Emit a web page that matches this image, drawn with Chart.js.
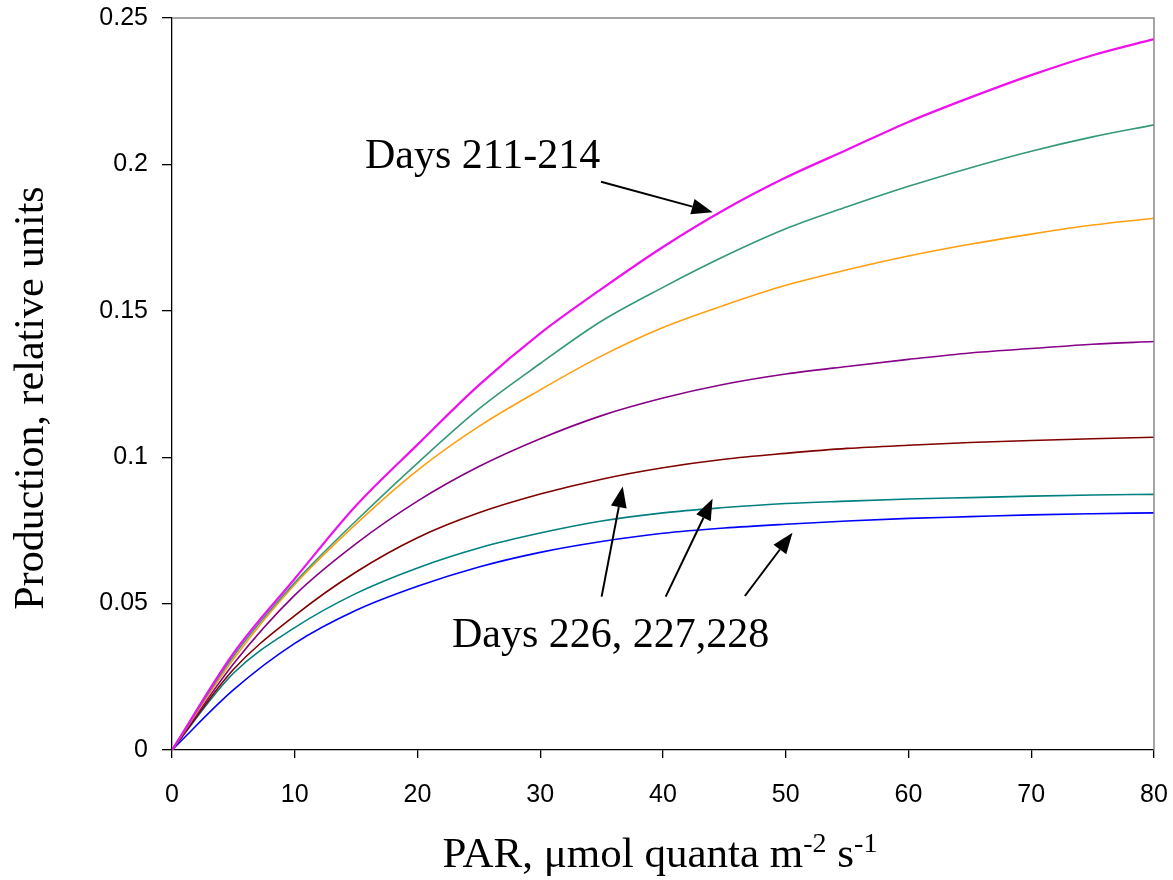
<!DOCTYPE html>
<html>
<head>
<meta charset="utf-8">
<script src="https://cdn.jsdelivr.net/npm/chart.js@4/dist/chart.umd.min.js"></script>
<style>
  body { margin: 0; background: #fff; }
</style>
</head>
<body>
<canvas id="chart" width="1173" height="880"></canvas>
<script>
// Data
const parValues = [0, 5, 10, 15, 20, 25, 30, 35, 40, 45, 50, 55, 60, 65, 70, 75, 80]

const days211 = [0, 0.033, 0.0585, 0.0835, 0.1043, 0.1246, 0.1423, 0.1575, 0.1718, 0.1845, 0.1955, 0.205, 0.2145, 0.2228, 0.2305, 0.2373, 0.2428]
const curveGreen = [0, 0.032, 0.0572, 0.0783, 0.098, 0.1165, 0.132, 0.1465, 0.158, 0.1686, 0.178, 0.1855, 0.1925, 0.1988, 0.2045, 0.2094, 0.2135]
const curveOrange = [0, 0.031, 0.0565, 0.0772, 0.0955, 0.1105, 0.123, 0.1346, 0.1443, 0.1519, 0.1587, 0.164, 0.1687, 0.1727, 0.1762, 0.1793, 0.1816]
const curvePurple = [0, 0.0294, 0.0529, 0.0705, 0.085, 0.0968, 0.1063, 0.1142, 0.1202, 0.1249, 0.1284, 0.131, 0.1334, 0.1356, 0.1371, 0.1386, 0.1395]
const days226 = [0, 0.0275, 0.0459, 0.0608, 0.0725, 0.081, 0.0874, 0.0925, 0.0964, 0.0993, 0.1013, 0.103, 0.1041, 0.105, 0.1057, 0.1063, 0.1068]
const days227 = [0, 0.0262, 0.0418, 0.0535, 0.0622, 0.069, 0.0741, 0.0782, 0.081, 0.0828, 0.0842, 0.085, 0.0857, 0.0862, 0.0867, 0.0871, 0.0873]
const days228 = [0, 0.0205, 0.0364, 0.0477, 0.0559, 0.0625, 0.0675, 0.0712, 0.0740, 0.0758, 0.0771, 0.0782, 0.0791, 0.0797, 0.0803, 0.0807, 0.081]

const xTicks = [0, 10, 20, 30, 40, 50, 60, 70, 80]
const yTicks = [0, 0.05, 0.1, 0.15, 0.2, 0.25]
const yTickLabels = ['0', '0.05', '0.1', '0.15', '0.2', '0.25']

// Annotations (data units): [fromX, fromY, toX, toY]
const arrows = [
    [34.95, 0.1941, 44.05, 0.1837],
    [35.0, 0.0524, 36.72, 0.0900],
    [40.22, 0.0524, 44.04, 0.0858],
    [46.67, 0.0526, 50.55, 0.0742]
]
const labels = [
    { text: 'Days 211-214', x: 15.72, y: 0.1988 },
    { text: 'Days 226, 227,228', x: 22.81, y: 0.0352 }
]

const series = [
    { data: days211, color: '#ee11ee', width: 2.2 },
    { data: curveGreen, color: '#339977', width: 1.6 },
    { data: curveOrange, color: '#ff9f10', width: 1.6 },
    { data: curvePurple, color: '#880088', width: 1.6 },
    { data: days226, color: '#800000', width: 1.6 },
    { data: days227, color: '#008080', width: 1.6 },
    { data: days228, color: '#0000ff', width: 1.6 }
]

const SERIF = '"Liberation Serif", "Times New Roman", serif'
const SANS = '"Liberation Sans", Arial, sans-serif'

function drawArrow(ctx, x1, y1, x2, y2) {
    const ang = Math.atan2(y2 - y1, x2 - x1)
    const len = 21, half = 8
    const bx = x2 - len * Math.cos(ang)
    const by = y2 - len * Math.sin(ang)
    ctx.beginPath()
    ctx.moveTo(x1, y1)
    ctx.lineTo(bx, by)
    ctx.lineWidth = 2
    ctx.strokeStyle = '#000'
    ctx.stroke()
    ctx.beginPath()
    ctx.moveTo(x2, y2)
    ctx.lineTo(bx + half * Math.sin(ang), by - half * Math.cos(ang))
    ctx.lineTo(bx - half * Math.sin(ang), by + half * Math.cos(ang))
    ctx.closePath()
    ctx.fillStyle = '#000'
    ctx.fill()
}

const decorations = {
    id: 'decorations',
    afterDraw(chart) {
        const { ctx, chartArea: a, scales: { x, y } } = chart
        ctx.save()

        // grey frame on top and right
        ctx.strokeStyle = '#888'
        ctx.lineWidth = 1.5
        ctx.beginPath()
        ctx.moveTo(a.left, a.top)
        ctx.lineTo(a.right, a.top)
        ctx.lineTo(a.right, a.bottom)
        ctx.stroke()

        // arrows
        arrows.forEach(([fx, fy, tx, ty]) => {
            drawArrow(ctx, x.getPixelForValue(fx), y.getPixelForValue(fy),
                x.getPixelForValue(tx), y.getPixelForValue(ty))
        })

        // annotation labels
        ctx.fillStyle = '#000'
        ctx.font = '42px ' + SERIF
        ctx.textAlign = 'left'
        ctx.textBaseline = 'alphabetic'
        labels.forEach(l => {
            ctx.fillText(l.text, x.getPixelForValue(l.x), y.getPixelForValue(l.y))
        })

        // x axis title with superscripts
        const parts = [
            { t: 'PAR, \u03bcmol quanta m', sup: false },
            { t: '-2', sup: true },
            { t: ' s', sup: false },
            { t: '-1', sup: true }
        ]
        const fontFor = p => (p.sup ? '28px ' : '43px ') + SERIF
        let total = 0
        parts.forEach(p => { ctx.font = fontFor(p); total += ctx.measureText(p.t).width })
        let cx = (a.left + a.right) / 2 - 3 - total / 2
        const base = a.bottom + 117
        parts.forEach(p => {
            ctx.font = fontFor(p)
            ctx.fillText(p.t, cx, p.sup ? base - 15 : base)
            cx += ctx.measureText(p.t).width
        })

        // y axis title
        ctx.translate(43, (a.top + a.bottom) / 2 + 14)
        ctx.rotate(-Math.PI / 2)
        ctx.font = '42px ' + SERIF
        ctx.textAlign = 'center'
        ctx.fillText('Production, relative units', 0, 0)

        ctx.restore()
    }
}

new Chart(document.getElementById('chart'), {
    type: 'line',
    data: {
        datasets: series.map(s => ({
            data: parValues.map((v, i) => ({ x: v, y: s.data[i] })),
            borderColor: s.color,
            borderWidth: s.width,
            pointRadius: 0,
            fill: false,
            cubicInterpolationMode: 'monotone'
        }))
    },
    options: {
        responsive: false,
        animation: false,
        layout: { padding: { top: 18, right: 19, left: 0, bottom: 0 } },
        plugins: { legend: { display: false }, tooltip: { enabled: false } },
        scales: {
            x: {
                type: 'linear',
                min: 0,
                max: 80,
                afterBuildTicks: scale => { scale.ticks = xTicks.map(v => ({ value: v })) },
                afterFit: scale => {
                    scale.height = 130
                    scale.paddingLeft = 0
                    scale.paddingRight = 0
                },
                ticks: { color: '#000', font: { family: SANS, size: 25 }, padding: 22, maxRotation: 0 },
                grid: { drawOnChartArea: false, drawTicks: true, tickLength: 8, color: '#000', lineWidth: 1.3 },
                border: { color: '#000', width: 1.3 }
            },
            y: {
                min: 0,
                max: 0.25,
                afterBuildTicks: scale => { scale.ticks = yTicks.map(v => ({ value: v })) },
                afterFit: scale => {
                    scale.width = 172
                    scale.paddingTop = 0
                    scale.paddingBottom = 0
                },
                ticks: {
                    color: '#000',
                    font: { family: SANS, size: 25 },
                    padding: 14,
                    callback: (v, i) => yTickLabels[i]
                },
                grid: { drawOnChartArea: false, drawTicks: true, tickLength: 10, color: '#000', lineWidth: 1.3 },
                border: { color: '#000', width: 1.3 }
            }
        }
    },
    plugins: [decorations]
})
</script>
</body>
</html>
